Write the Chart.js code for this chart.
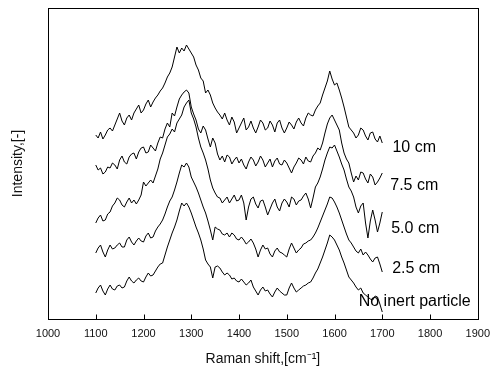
<!DOCTYPE html>
<html>
<head>
<meta charset="utf-8">
<script src="https://cdn.jsdelivr.net/npm/chart.js@4/dist/chart.umd.min.js"></script>
<style>
  body { margin: 0; background: #fff; }
</style>
</head>
<body>
<canvas id="myChart" width="498" height="372"></canvas>
<script>
// Raman shift grid, 5 cm-1 steps
const shifts = [
  1100,1105,1110,1115,1120,1125,1130,1135,1140,1145,1150,1155,1160,1165,1170,1175,1180,1185,1190,1195,
  1200,1205,1210,1215,1220,1225,1230,1235,1240,1245,1250,1255,1260,1265,1270,1275,1280,1285,1290,1295,
  1300,1305,1310,1315,1320,1325,1330,1335,1340,1345,1350,1355,1360,1365,1370,1375,1380,1385,1390,1395,
  1400,1405,1410,1415,1420,1425,1430,1435,1440,1445,1450,1455,1460,1465,1470,1475,1480,1485,1490,1495,
  1500,1505,1510,1515,1520,1525,1530,1535,1540,1545,1550,1555,1560,1565,1570,1575,1580,1585,1590,1595,
  1600,1605,1610,1615,1620,1625,1630,1635,1640,1645,1650,1655,1660,1665,1670,1675,1680,1685,1690,1695,
  1700
];

// stacked spectra (arbitrary intensity, offset)
const cm10 = [
  184,181,187,180,184,189,191,188,194,200,206,198,194,201,204,199,206,210,214,206,
  209,215,219,212,217,221,224,228,231,236,242,246,252,262,272,266,271,268,274,270,
  266,262,254,249,241,238,226,229,224,216,211,207,204,200,206,199,194,202,197,186,
  191,196,201,189,192,198,191,186,192,199,196,189,191,198,194,187,196,199,191,186,
  191,197,194,190,197,201,196,193,201,206,204,203,209,213,216,224,231,238,248,240,
  234,236,229,221,212,202,192,189,186,181,184,191,189,183,179,186,187,180,177,183,
  176
];
const cm75 = [
  154,149,151,145,147,152,151,156,154,150,159,163,157,155,162,165,166,160,167,171,
  172,166,167,174,171,168,176,182,181,190,196,192,206,203,212,220,224,227,229,226,
  212,205,199,190,186,193,189,180,172,181,176,165,159,163,157,164,162,155,159,162,
  156,160,154,150,157,162,159,153,157,163,159,152,156,160,152,158,161,155,154,159,
  156,151,146,152,156,161,159,155,162,158,157,163,166,171,169,176,186,195,201,204,
  199,194,189,176,166,160,156,146,137,143,139,147,146,140,136,145,142,134,137,141,
  146
];
const cm50 = [
  96,101,104,98,99,105,107,113,116,121,119,114,112,117,121,116,119,115,119,124,
  137,133,136,139,136,143,150,160,166,174,182,185,190,187,196,200,204,212,216,219,
  206,200,192,181,172,166,159,150,139,131,126,122,121,116,119,122,116,120,124,118,
  119,124,116,99,112,120,122,115,111,118,119,112,104,110,116,120,112,108,116,120,
  117,112,122,120,114,118,119,123,126,120,111,121,132,136,142,150,159,166,172,171,
  174,168,162,155,149,140,132,128,122,112,106,113,116,96,81,98,109,99,87,96,
  107
];
const cm25 = [
  66,71,74,67,62,69,74,70,71,74,76,72,72,79,82,77,74,78,81,78,
  77,83,86,81,82,88,92,95,99,105,112,118,122,129,137,146,154,152,156,152,
  142,137,132,126,119,112,106,98,89,79,92,90,89,85,84,86,82,86,84,80,
  79,82,79,75,77,80,76,70,62,69,74,70,71,65,62,68,71,67,66,64,
  62,70,76,71,66,69,71,75,76,78,79,82,86,91,97,103,109,115,122,121,
  117,112,106,99,92,85,79,76,72,68,66,70,64,67,64,60,57,61,62,55,
  47
];
const noInert = [
  26,31,34,28,24,30,34,30,29,33,34,31,32,38,42,38,36,39,41,38,
  37,42,46,43,44,48,52,55,56,64,72,79,86,92,99,108,116,113,116,112,
  106,99,92,86,79,70,59,55,52,41,52,53,51,47,44,46,44,40,41,38,
  37,40,37,34,36,39,32,28,24,29,32,28,29,25,22,27,31,28,26,24,
  24,31,36,31,27,29,31,33,34,36,37,41,46,50,56,62,69,76,84,82,
  79,74,69,62,56,49,42,39,36,32,29,31,26,24,22,20,19,23,22,15,
  7
];

const seriesNames = ['10 cm', '7.5 cm', '5.0 cm', '2.5 cm', 'No inert particle'];
const seriesValues = [cm10, cm75, cm50, cm25, noInert];

// where each curve name is written (data units)
const labelSpots = [
  { x: 1767, y: 171 },
  { x: 1767, y: 133 },
  { x: 1769, y: 90 },
  { x: 1771, y: 50 },
  { x: 1768, y: 17 }
];

const datasets = seriesValues.map(function (vals, i) {
  return {
    label: seriesNames[i],
    data: shifts.map(function (s, j) { return { x: s, y: vals[j] }; }),
    borderColor: '#000',
    borderWidth: 1,
    pointRadius: 0,
    tension: 0,
    fill: false
  };
});

// frame, inward ticks and curve names
const framePlugin = {
  id: 'frame',
  afterDraw: function (chart) {
    const ctx = chart.ctx;
    const xs = chart.scales.x;
    const ys = chart.scales.y;
    const l = Math.round(xs.getPixelForValue(xs.min)) + 0.5;
    const r = Math.round(xs.getPixelForValue(xs.max)) + 0.5;
    const t = Math.round(ys.getPixelForValue(ys.max)) + 0.5;
    const b = Math.round(ys.getPixelForValue(ys.min)) + 0.5;
    ctx.save();
    ctx.strokeStyle = '#000';
    ctx.lineWidth = 1;
    ctx.strokeRect(l, t, r - l, b - t);
    ctx.beginPath();
    xs.ticks.forEach(function (tk) {
      const px = Math.round(xs.getPixelForValue(tk.value)) + 0.5;
      ctx.moveTo(px, b);
      ctx.lineTo(px, b - 5);
    });
    ctx.stroke();
    ctx.fillStyle = '#000';
    ctx.font = '16px "Liberation Sans", Arial, sans-serif';
    ctx.textAlign = 'center';
    ctx.textBaseline = 'middle';
    seriesNames.forEach(function (name, i) {
      ctx.fillText(name, xs.getPixelForValue(labelSpots[i].x), ys.getPixelForValue(labelSpots[i].y));
    });
    ctx.restore();
  }
};

const config = {
  type: 'line',
  data: { datasets: datasets },
  options: {
    responsive: false,
    animation: false,
    layout: { padding: { top: 8, right: 12, left: 0, bottom: 0 } },
    plugins: {
      legend: { display: false },
      tooltip: { enabled: false }
    },
    scales: {
      x: {
        type: 'linear',
        min: 1000,
        max: 1900,
        afterFit: function (scale) { scale.height = 53; },
        grid: { display: false, drawTicks: false },
        border: { display: false },
        ticks: {
          stepSize: 100,
          padding: 8,
          color: '#111',
          callback: function (v) { return String(v); },
          font: { family: '"Liberation Sans", Arial, sans-serif', size: 11 }
        },
        title: {
          display: true,
          text: 'Raman shift,[cm\u207B\u00B9]',
          color: '#111',
          padding: { top: 4, bottom: 4 },
          font: { family: '"Liberation Sans", Arial, sans-serif', size: 14 }
        }
      },
      y: {
        min: 0,
        max: 311,
        afterFit: function (scale) { scale.width = 48; },
        grid: { display: false, drawTicks: false },
        border: { display: false },
        ticks: { display: false },
        title: {
          display: true,
          text: 'Intensity,[-]',
          color: '#111',
          padding: { top: 10, bottom: 0 },
          font: { family: '"Liberation Sans", Arial, sans-serif', size: 14 }
        }
      }
    }
  },
  plugins: [framePlugin]
};

const myChart = new Chart(document.getElementById('myChart'), config);
</script>
</body>
</html>
